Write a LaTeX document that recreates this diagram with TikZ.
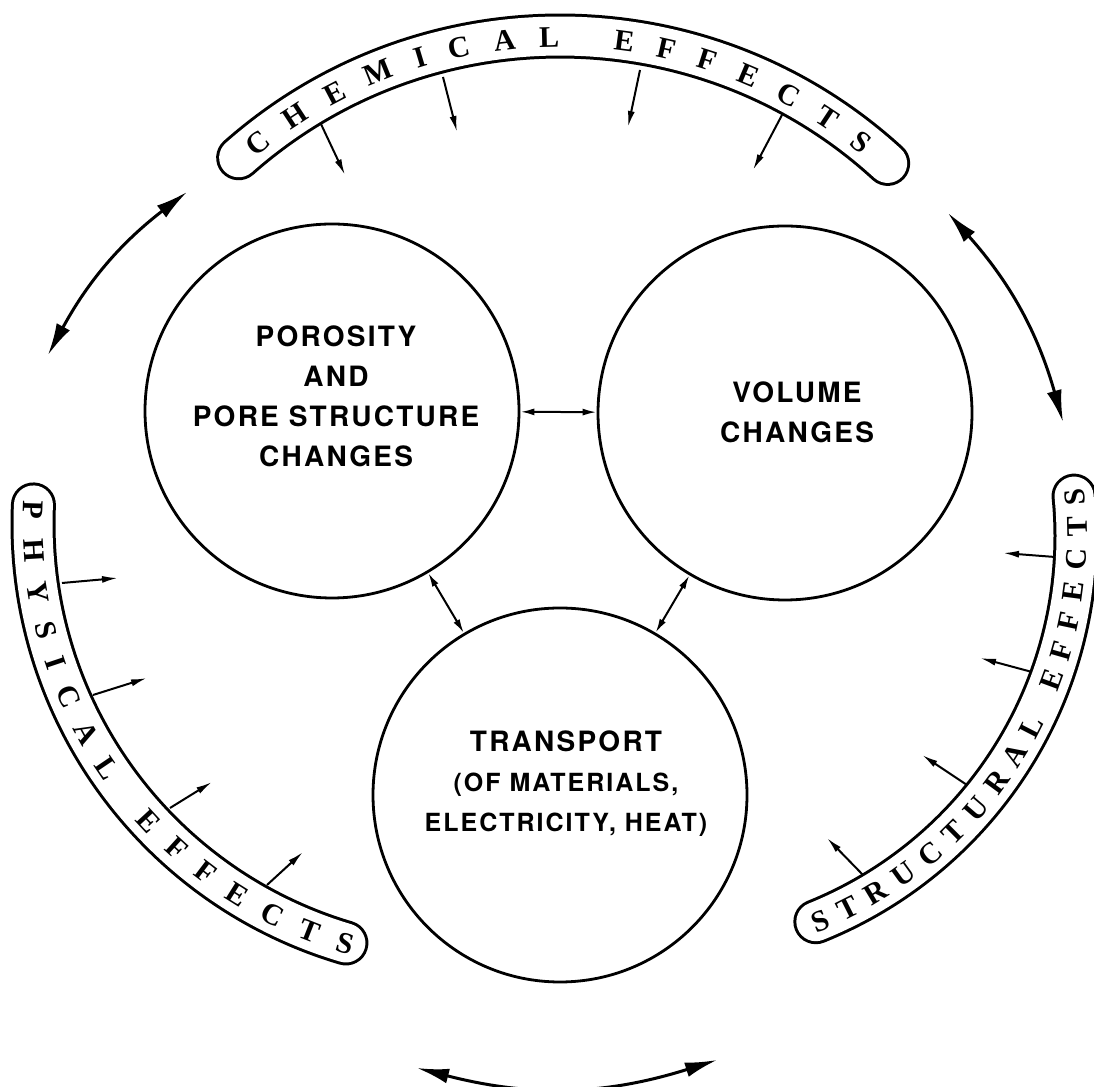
\documentclass[tikz,border=0pt]{standalone}
\usepackage{fontspec}
\newfontfamily\circfont[LetterSpace=8]{TeX Gyre Heros}
\newfontfamily\bandfont{Liberation Serif}
\usetikzlibrary{arrows.meta,decorations.text}

\begin{document}
\begin{tikzpicture}[
  x=1pt,y=1pt,>=Latex,
  bubble/.style={circle,draw,line width=2.8pt,minimum size=374pt,inner sep=0pt},
  ctext/.style={font=\circfont\bfseries\fontsize{28}{40}\selectfont,align=center,inner sep=0pt},
  band/.style={line width=3pt,double=white,double distance=39pt,line cap=round},
  btext/.style={decorate,font=\bandfont\bfseries\fontsize{30}{30}\selectfont,
    decoration={text along path,text align={fit to path},
    text={|\bandfont\bfseries\fontsize{30}{30}\selectfont|#1}}},
  fx/.style={-{Latex[length=16pt,width=7pt]},line width=2pt},
  link/.style={{Latex[length=14pt,width=7pt]}-{Latex[length=14pt,width=7pt]},line width=2pt},
  relay/.style={{Latex[length=32pt,width=15pt]}-{Latex[length=32pt,width=15pt]},line width=3pt}
]
  \useasboundingbox (0,0) rectangle (1094,1086);
  % centres of the three effect bands
  \coordinate (chc) at (560,565);
  \coordinate (phc) at (470,562);
  \coordinate (stc) at (660,550);

  % arrows from the bands inwards
  \foreach \xa/\ya/\xb/\yb in {320/964/345/911, 443/1009/457/954, 640/1016/628/959, 782/971/753/916,
    62/503/118/508, 93/391/147/408, 170/278/212/304, 267/201/303/234,
    1055/529/1003/533, 1032/414/980/428, 967/301/922/331, 863/211/827/248}
    \draw[fx] (\xa,\ya) -- (\xb,\yb);

  \draw[band] ([shift={(131.5:485)}]chc) arc[start angle=131.5,end angle=47.5,radius=485];
  \draw[band] ([shift={(177.5:437)}]phc) arc[start angle=177.5,end angle=253.5,radius=437];
  \draw[band] ([shift={(-68:416)}]stc) arc[start angle=-68,end angle=5.5,radius=416];

  \path[btext={CHEMICAL EFFECTS}] ([shift={(130:474)}]chc) arc[start angle=130,end angle=50.5,radius=474];
  \path[btext={PHYSICAL EFFECTS}] ([shift={(177:447)}]phc) arc[start angle=177,end angle=254.5,radius=447];
  \path[btext={STRUCTURAL EFFECTS}] ([shift={(-68.5:427)}]stc) arc[start angle=-68.5,end angle=6.5,radius=427];

  % the three processes
  \node[bubble] (por) at (332,675) {};
  \node[bubble] (vol) at (785,673) {};
  \node[bubble] (trn) at (560,291) {};
  \node[ctext] (porT) at (336,690) {POROSITY\\AND\\PORE STRUCTURE\\CHANGES};
  \node[ctext] (volT) at (797,674) {VOLUME\\CHANGES};
  \node[ctext] (trnT) at (566,302) {TRANSPORT\\{\fontsize{25}{40}\selectfont(OF MATERIALS,}\\
    {\fontsize{25}{40}\selectfont ELECTRICITY, HEAT)}};

  \draw[link] (por) -- (vol);
  \draw[link] (por) -- (trn);
  \draw[link] (vol) -- (trn);

  % arrows between the bands
  \coordinate (l1) at (187,894);
  \coordinate (l2) at (48,731);
  \coordinate (b1) at (417,18);
  \coordinate (b2) at (717,26);
  \coordinate (r1) at (1063,664);
  \coordinate (r2) at (948,873);
  \draw[relay] (l1) to[bend right=12] (l2);
  \draw[relay] (b1) to[bend right=16] (b2);
  \draw[relay] (r1) to[bend right=13] (r2);
\end{tikzpicture}
\end{document}
